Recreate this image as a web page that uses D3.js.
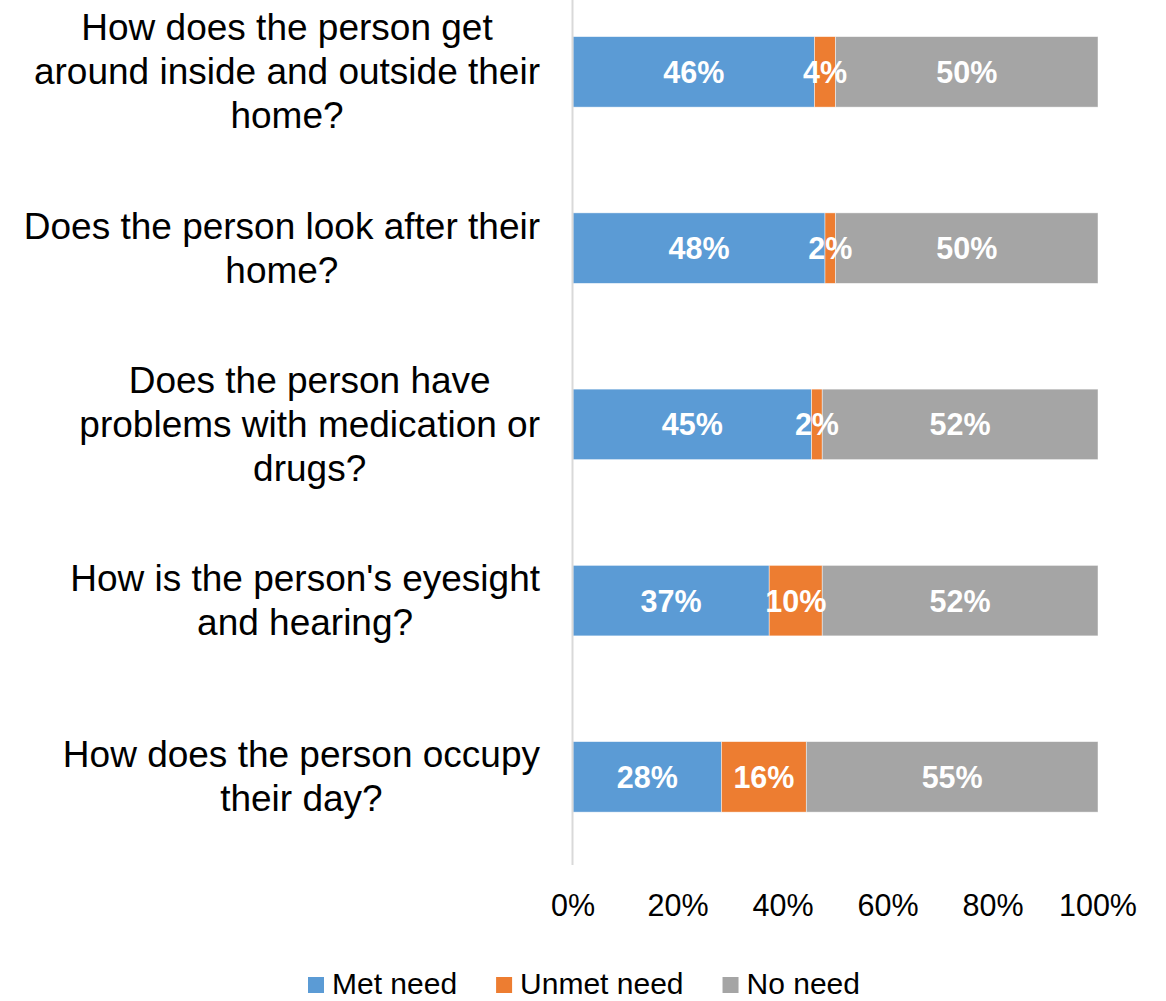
<!DOCTYPE html>
<html>
<head>
<meta charset="utf-8">
<script src="https://cdn.jsdelivr.net/npm/d3@7"></script>
<style>
  html, body { margin: 0; padding: 0; background: #fff; }
  svg { display: block; font-family: "Liberation Sans", Arial, sans-serif; }
</style>
</head>
<body>
<svg id="chart" width="1166" height="1001"></svg>
<script>
// Questions, each wrapped into the lines shown beside its bar
const categories = [
  ["How does the person get", "around inside and outside their", "home?"],
  ["Does the person look after their", "home?"],
  ["Does the person have", "problems with medication or", "drugs?"],
  ["How is the person's eyesight", "and hearing?"],
  ["How does the person occupy", "their day?"]
];
const seriesNames = ["Met need", "Unmet need", "No need"];
const metNeed   = [46, 48, 45, 37, 28];
const unmetNeed = [4, 2, 2, 10, 16];
const noNeed    = [50, 50, 52, 52, 55];
const tickValues = [0, 0.2, 0.4, 0.6, 0.8, 1.0];
const colors = ["#5B9BD5", "#ED7D31", "#A5A5A5"];

const svg = d3.select("#chart");

const x = d3.scaleLinear().domain([0, 1]).range([573, 1098]);
const y = d3.scaleBand().domain(d3.range(categories.length))
  .range([-16.25, 865]).paddingInner(0.6).paddingOuter(0.3);

// 100% stacked: each row is normalised by its own total
const rows = categories.map((c, i) => {
  const vals = [metNeed[i], unmetNeed[i], noNeed[i]];
  const total = d3.sum(vals);
  let acc = 0;
  return vals.map((v, k) => {
    const seg = { row: i, k, value: v, x0: acc / total, x1: (acc + v) / total };
    acc += v;
    return seg;
  });
});
const segments = rows.flat();

// bars
svg.append("g").selectAll("rect").data(segments).join("rect")
  .attr("x", d => x(d.x0))
  .attr("width", d => x(d.x1) - x(d.x0))
  .attr("y", d => y(d.row))
  .attr("height", y.bandwidth())
  .attr("fill", d => colors[d.k])
  .attr("stroke", "#fff")
  .attr("stroke-opacity", 0.6)
  .attr("stroke-width", 0.75);

// data labels
svg.append("g").selectAll("text").data(segments).join("text")
  .attr("x", d => (x(d.x0) + x(d.x1)) / 2)
  .attr("y", d => y(d.row) + y.bandwidth() / 2)
  .attr("text-anchor", "middle")
  .attr("dominant-baseline", "central")
  .attr("fill", "#fff")
  .attr("font-weight", "bold")
  .attr("font-size", 30.5)
  .text(d => d.value + "%");

// vertical category axis line
svg.append("line")
  .attr("x1", 572.5).attr("x2", 572.5)
  .attr("y1", 0).attr("y2", 865)
  .attr("stroke", "#d9d9d9").attr("stroke-width", 2);

// category labels: block right edge at 540, each line centred within the block
const labelG = svg.append("g");
categories.forEach((lines, i) => {
  const g = labelG.append("g");
  const lh = 44;
  const cy = y(i) + y.bandwidth() / 2;
  const texts = lines.map((ln, j) => g.append("text")
    .attr("font-size", 37)
    .attr("fill", "#000")
    .attr("text-anchor", "middle")
    .attr("dominant-baseline", "central")
    .attr("y", cy + (j - (lines.length - 1) / 2) * lh)
    .text(ln));
  const maxW = d3.max(texts, t => t.node().getComputedTextLength());
  texts.forEach(t => t.attr("x", 540 - maxW / 2));
});

// x axis tick labels
svg.append("g").selectAll("text").data(tickValues).join("text")
  .attr("x", d => x(d))
  .attr("y", 905)
  .attr("text-anchor", "middle")
  .attr("dominant-baseline", "central")
  .attr("font-size", 30.5)
  .attr("fill", "#000")
  .text(d => d3.format(".0%")(d));

// legend along the bottom
const legend = svg.append("g");
let lx = 0;
seriesNames.forEach((name, k) => {
  const g = legend.append("g");
  g.append("rect").attr("x", 0).attr("y", -17).attr("width", 16).attr("height", 16).attr("fill", colors[k]);
  const t = g.append("text").attr("x", 24).attr("y", 0)
    .attr("font-size", 30).attr("fill", "#000").text(name);
  const w = 24 + t.node().getComputedTextLength();
  g.attr("transform", `translate(${lx},0)`);
  lx += w + 39;
});
legend.attr("transform", "translate(308,994)");
</script>
</body>
</html>
